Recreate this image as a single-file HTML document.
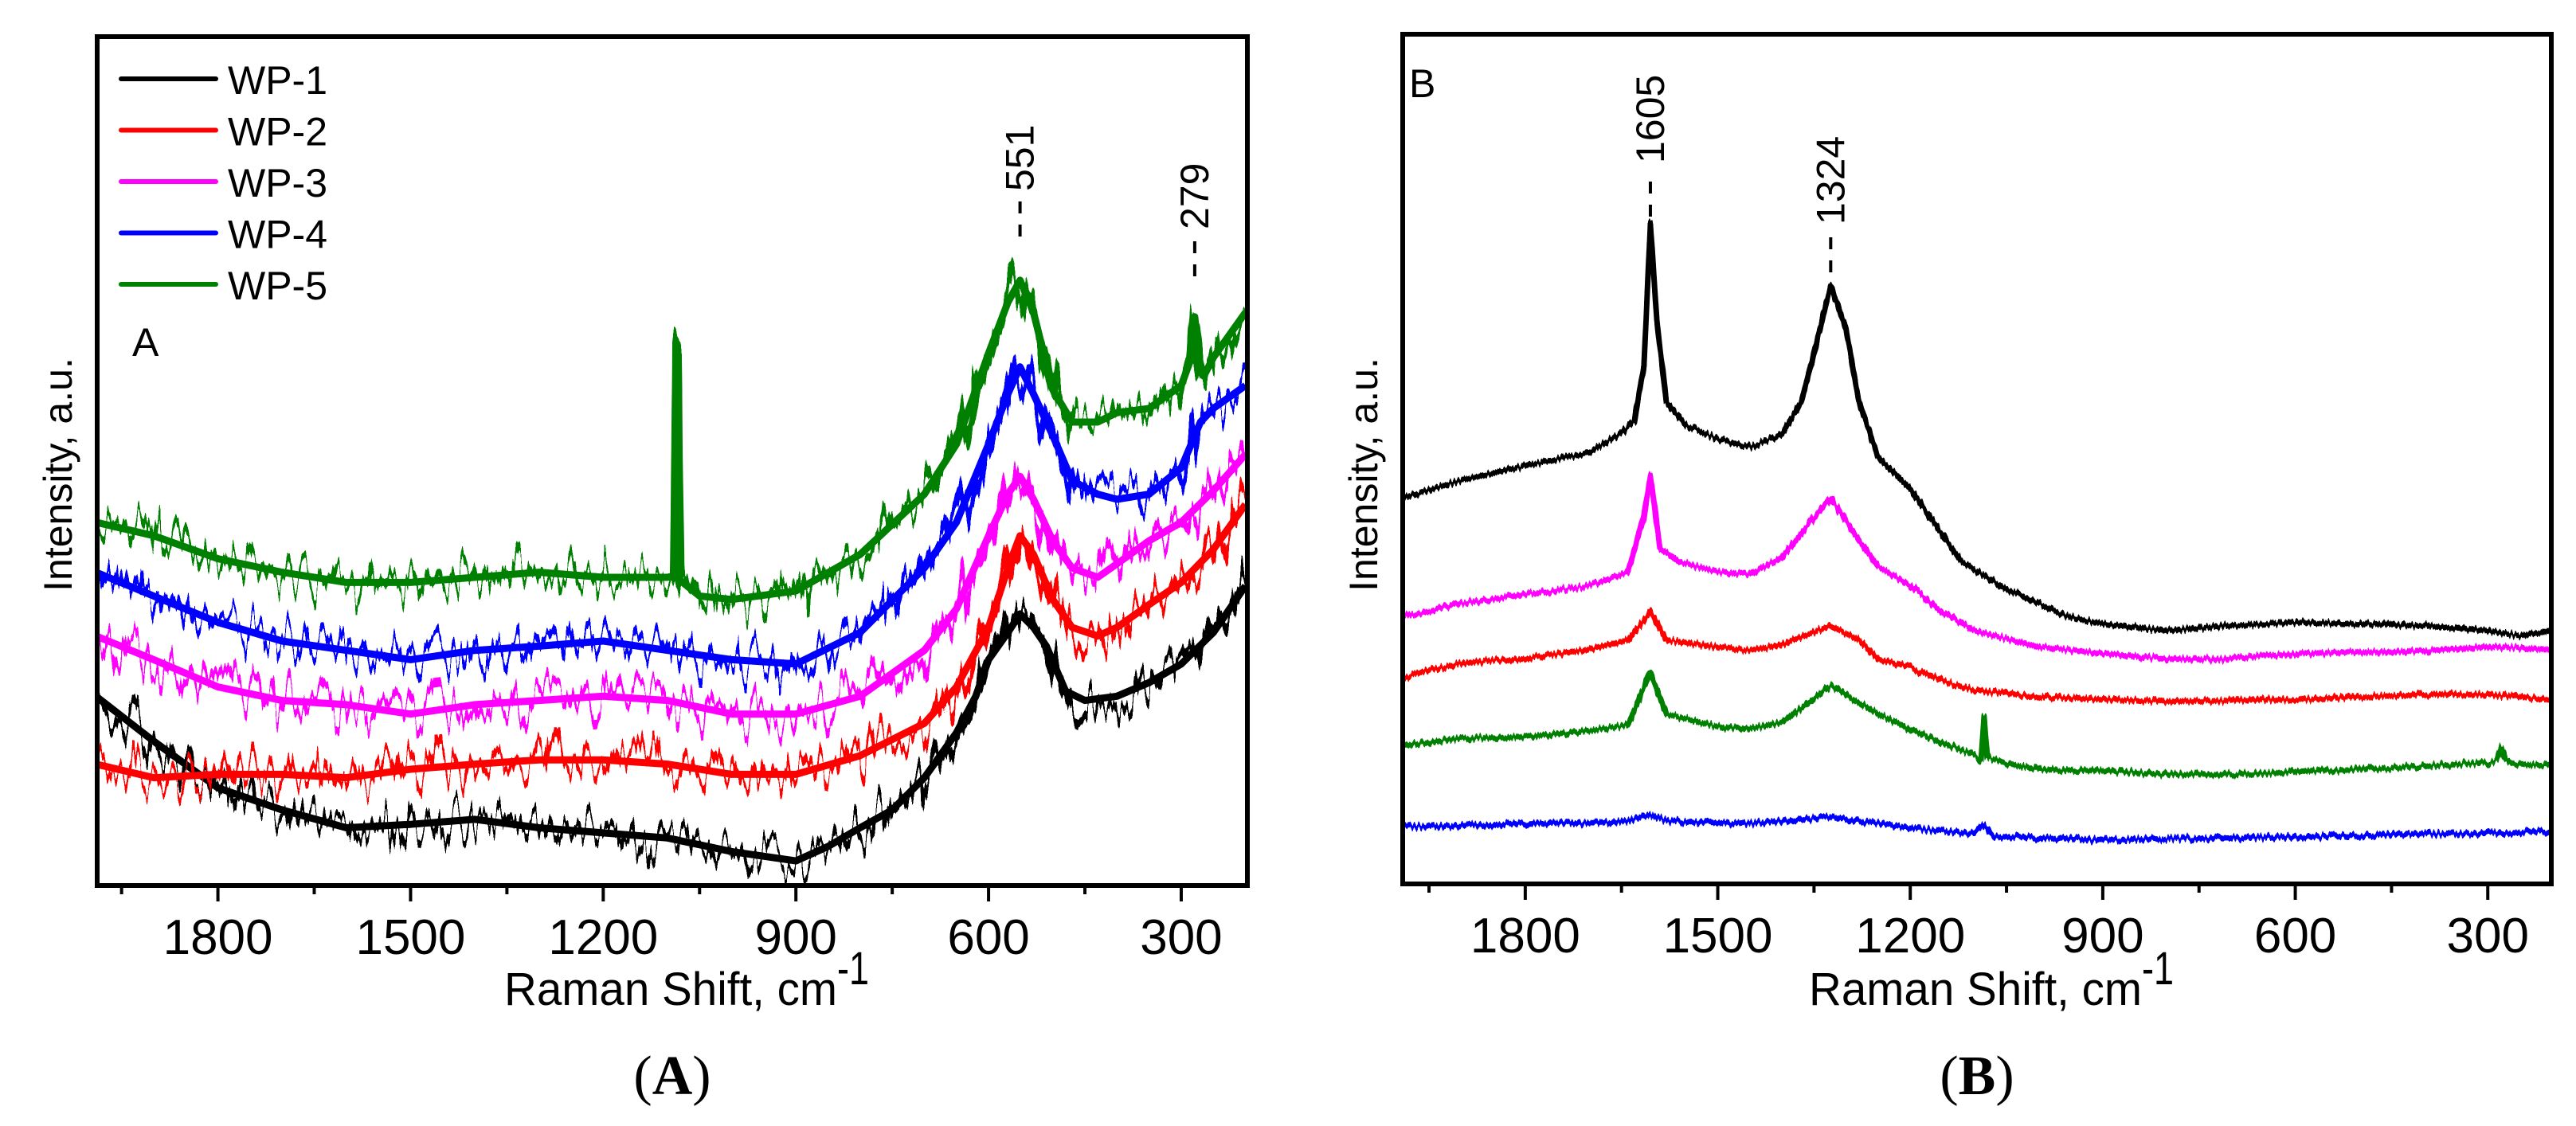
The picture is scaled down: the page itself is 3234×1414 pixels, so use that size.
<!DOCTYPE html>
<html><head><meta charset="utf-8"><style>
html,body{margin:0;padding:0;background:#fff;}
svg{display:block;font-family:"Liberation Sans",Arial,sans-serif;}
</style></head><body>
<svg id="fig" width="3234" height="1414" viewBox="0 0 3234 1414" xmlns="http://www.w3.org/2000/svg">
<defs>
<filter id="noise" filterUnits="userSpaceOnUse" x="0" y="0" width="1700" height="1200">
<feTurbulence type="fractalNoise" baseFrequency="0.09 0.004" numOctaves="3" seed="3" result="t"/>
<feColorMatrix in="t" type="matrix" values="1.8 0 0 0 -0.4  0 1 0 0 0  0 0 0 0 0.5  0 0 0 0 1" result="t2"/>
<feDisplacementMap in="SourceGraphic" in2="t2" scale="70" xChannelSelector="B" yChannelSelector="R"/>
</filter>
<filter id="noiseB" filterUnits="userSpaceOnUse" x="1700" y="0" width="1534" height="1200">
<feTurbulence type="fractalNoise" baseFrequency="0.4 0.01" numOctaves="1" seed="5" result="t"/>
<feColorMatrix in="t" type="matrix" values="1 0 0 0 0  0 1 0 0 0  0 0 0 0 0.5  0 0 0 0 1" result="t2"/>
<feDisplacementMap in="SourceGraphic" in2="t2" scale="13" xChannelSelector="B" yChannelSelector="R"/>
</filter>
<clipPath id="clipA"><rect x="124" y="48" width="1440" height="1062"/></clipPath>
<clipPath id="clipB"><rect x="1763" y="45" width="1440" height="1063"/></clipPath>
</defs>
<g id="panelA"></g>
<g id="panelB"></g>
</svg>
<script>
// ---------- Panel A data ----------
const ticksX = [1800, 1500, 1200, 900, 600, 300];
const minorX = [1950, 1650, 1350, 1050, 750, 450];
const seriesNames = ["WP-1", "WP-2", "WP-3", "WP-4", "WP-5"];
const seriesColors = ["#000000", "#ff0000", "#ff00ff", "#0000ff", "#008000"];

const aWP1x = [1990,1900,1800,1700,1600,1500,1400,1300,1200,1100,1000,900,850,800,750,700,650,620,600,570,551,530,510,480,450,400,350,300,250,200];
const aWP1y = [22.3,17,11.5,8.9,6.8,7.2,7.8,6.8,6.2,5.6,4,2.9,4.6,6.8,8.9,12.7,18,22.3,26.6,29.8,32,30.4,28.2,22.9,21.8,22.3,23.9,26.1,29.8,35.3];
const aWP2x = [1990,1900,1800,1700,1600,1500,1400,1300,1200,1100,1000,900,800,700,650,600,570,551,530,500,470,430,400,350,300,250,200];
const aWP2y = [14.3,12.7,13.1,13.1,12.7,13.7,14.3,14.8,14.8,14.3,13.1,13.1,15.3,19.1,23.4,30.4,37.4,41.2,39,33.7,30.4,29.4,30.4,33.1,35.7,39.6,44.9];
const aWP3x = [1990,1900,1800,1700,1600,1500,1400,1300,1200,1100,1000,900,800,700,650,600,570,551,530,500,470,430,400,350,300,250,200];
const aWP3y = [29.4,26.6,23.4,21.8,21.3,20.2,21.3,21.8,22.3,21.8,20.2,20.2,22.3,27.7,32.6,41.2,46.1,48.2,45.5,40.6,37.4,36.3,37.9,40.6,42.8,46.5,50.8];
const aWP4x = [1990,1900,1800,1700,1600,1500,1400,1300,1200,1100,1000,900,800,700,650,600,570,551,530,500,470,430,400,350,300,270,250,200];
const aWP4y = [36.9,34.1,31,28.8,27.7,26.6,27.7,28.2,28.8,27.7,26.6,26.1,29.8,37.4,42.8,52,57.9,61.1,57.9,53,47.7,46.1,45.5,46.1,49.2,54.6,56.2,58.9];
const aWP5x = [1990,1900,1800,1700,1600,1500,1400,1300,1200,1100,1089,1085,1081,1050,1000,900,800,700,650,600,570,551,530,500,470,430,400,350,300,285,279,272,265,250,200];
const aWP5y = [42.8,41.2,38.5,36.9,35.7,35.7,36.3,36.9,36.3,36.3,36.5,62.7,36,34.1,33.7,34.7,39,46.1,52,62.7,68.7,71.3,67.5,58.4,54.6,54.6,55.7,56.2,58.9,62,67,62,60,62.2,67.5];

// ---------- Panel B data ----------
const bWP1x = [1990,1900,1800,1700,1650,1630,1615,1605,1595,1580,1550,1500,1450,1400,1370,1350,1324,1300,1280,1250,1200,1170,1120,1050,1000,950,900,800,700,600,500,400,300,250,200];
const bWP1y = [45.4,47.5,49.2,50.8,53,54.5,61,77.7,66.4,56.7,54,52.4,51.4,53,56.7,62.6,70.4,65.3,56.7,50.2,46.5,43.2,37.9,34.7,33,31.4,30.6,29.8,30.4,30.8,30.6,30.4,29.8,29.2,29.8];
const bWP3x = [1990,1900,1800,1700,1640,1615,1605,1590,1560,1500,1450,1400,1360,1324,1290,1250,1200,1150,1100,1000,900,800,700,600,400,300,200];
const bWP3y = [31.4,33,34.1,35.1,36.7,43.2,48.1,39.5,37.9,36.7,36.5,38.4,42.2,45.4,41.6,37.3,35.1,32,29.8,27.9,27.1,26.5,26.5,27.1,27.4,27.9,27.6];
const bWP2x = [1990,1900,1800,1700,1640,1605,1580,1500,1450,1400,1324,1280,1250,1200,1150,1100,1000,800,600,400,300,200];
const bWP2y = [24.4,26,26.5,27.6,28.7,32,28.7,27.9,27.4,28.2,30.4,28.7,26.5,25.5,23.9,22.8,22,21.5,21.7,22.3,22.3,21.7];
const bWP5x = [1990,1900,1800,1700,1640,1605,1580,1500,1450,1400,1324,1250,1200,1150,1100,1090,1085,1080,1050,1000,900,800,700,600,500,400,300,285,279,272,265,200];
const bWP5y = [16.3,17.1,17.3,18,18.7,24.9,20,18.5,18.3,19,23.3,20,18.2,16.6,15.1,14.6,19.7,14.8,14.2,13.5,13.3,12.9,12.9,13.2,13.5,13.9,14.2,14.6,16,14.6,14.2,13.9];
const bWP4x = [1990,1900,1800,1700,1640,1605,1580,1500,1450,1324,1250,1200,1100,1085,1070,1000,900,700,500,300,200];
const bWP4y = [6.7,6.9,7.1,7.2,7.4,8.2,7.4,7.2,7.1,7.9,7.1,6.5,6,6.9,5.7,5.4,5.2,5.4,5.7,6,6.2];

const NS = "http://www.w3.org/2000/svg";
function mk(tag, attrs, parent, text){
  const e = document.createElementNS(NS, tag);
  for (const k in attrs) e.setAttribute(k, attrs[k]);
  if (text !== undefined) e.textContent = text;
  parent.appendChild(e);
  return e;
}

function buildPanel(g, P){
  const xS = v => P.x0 + (P.v0 - v) / (P.v0 - P.v1) * (P.x1 - P.x0);
  const yS = v => P.y1 - v / 100 * (P.y1 - P.y0);
  const sg = mk("g", {"clip-path": "url(#" + P.clip + ")"}, g);
  P.series.forEach((s, i) => {
    const d = s.x.map((v, j) => (j ? "L" : "M") + xS(v).toFixed(1) + " " + yS(s.y[j]).toFixed(1)).join(" ");
    const sgrp = mk("g", {}, sg);
    
    
    if (P.baseW) mk("path", {d: d, fill: "none", stroke: s.color, "stroke-width": P.baseW, "stroke-linejoin": "round"}, sgrp);
    mk("path", {d: d, fill: "none", stroke: s.color, "stroke-width": P.sw, "stroke-linejoin": "round", filter: "url(#" + P.filter + ")"}, sgrp);
  });
  const fr = mk("rect", {x: P.x0, y: P.y0, width: P.x1 - P.x0, height: P.y1 - P.y0, fill: "none", stroke: "#000", "stroke-width": 6}, g);
  
  
  ticksX.forEach(v => {
    const x = xS(v);
    const t = mk("line", {x1: x, x2: x, y1: P.y1, y2: P.y1 + 20, stroke: "#000", "stroke-width": 4}, g);
    
    
    const l = mk("text", {x: x, y: P.y1 + 86, "text-anchor": "middle", "font-size": 62}, g, String(v));
    
    
  });
  minorX.forEach(v => {
    const x = xS(v);
    const t = mk("line", {x1: x, x2: x, y1: P.y1, y2: P.y1 + 11, stroke: "#000", "stroke-width": 4}, g);
    
    
  });
  const cx = (P.x0 + P.x1) / 2;
  const xt = mk("text", {x: cx - 211, y: 1262, "font-size": 58, textLength: 418, lengthAdjust: "spacingAndGlyphs"}, g, "Raman Shift, cm");
  
  
  const sup = mk("text", {x: cx + 207, y: 1236, "font-size": 58, textLength: 40, lengthAdjust: "spacingAndGlyphs"}, g, "-1");
  
  
  const yt = mk("text", {x: 0, y: 0, "text-anchor": "middle", "font-size": 50, transform: "translate(" + (P.x0 - 32) + ",596) rotate(-90)"}, g, "Intensity, a.u.");
  
  
  const cap = mk("text", {x: cx, y: 1374, "text-anchor": "middle", "font-size": 70, "font-family": "Liberation Serif, serif"}, g);
  
  
  mk("tspan", {}, cap, "(");
  mk("tspan", {"font-weight": "bold"}, cap, P.letter);
  mk("tspan", {}, cap, ")");
  const pl = mk("text", {x: P.letterX, y: P.letterY, "font-size": 50}, g, P.letter);
  
  
  P.peaks.forEach(pk => {
    const x = xS(pk.v);
    const dl = mk("line", {x1: x, x2: x, y1: pk.dy0, y2: pk.dy1, stroke: "#000", "stroke-width": 4, "stroke-dasharray": "15 14"}, g);
    
    
    const tl = mk("text", {x: 0, y: 0, "font-size": 50, transform: "translate(" + (x + 17) + "," + pk.ty + ") rotate(-90)"}, g, String(pk.v));
    
    
  });
  return {xS, yS};
}

const gA = document.getElementById("panelA");
buildPanel(gA, {
  x0: 122, x1: 1566, y0: 46, y1: 1112, v0: 1988, v1: 197, clip: "clipA", filter: "noise", sw: 12, baseW: 9,
  letter: "A", letterX: 166, letterY: 447,
  series: [
    {name: "WP-1", color: seriesColors[0], x: aWP1x, y: aWP1y},
    {name: "WP-2", color: seriesColors[1], x: aWP2x, y: aWP2y},
    {name: "WP-3", color: seriesColors[2], x: aWP3x, y: aWP3y},
    {name: "WP-4", color: seriesColors[3], x: aWP4x, y: aWP4y},
    {name: "WP-5", color: seriesColors[4], x: aWP5x, y: aWP5y}
  ],
  peaks: [{v: 551, dy0: 253, dy1: 305, ty: 240}, {v: 279, dy0: 303, dy1: 352, ty: 288}]
});
const lg = mk("g", {}, gA);


seriesNames.forEach((n, i) => {
  const y = 99 + i * 64.5;
  const e = mk("g", {}, lg);
  
  
  mk("line", {x1: 152, x2: 271, y1: y, y2: y, stroke: seriesColors[i], "stroke-width": 6, "stroke-linecap": "round"}, e);
  mk("text", {x: 286, y: y + 19, "font-size": 50}, e, n);
});

const gB = document.getElementById("panelB");
buildPanel(gB, {
  x0: 1761, x1: 3203, y0: 43, y1: 1110, v0: 1991, v1: 201, clip: "clipB", filter: "noiseB", sw: 7, baseW: 0,
  letter: "B", letterX: 1769, letterY: 122,
  series: [
    {name: "WP-1", color: seriesColors[0], x: bWP1x, y: bWP1y},
    {name: "WP-3", color: seriesColors[2], x: bWP3x, y: bWP3y},
    {name: "WP-2", color: seriesColors[1], x: bWP2x, y: bWP2y},
    {name: "WP-5", color: seriesColors[4], x: bWP5x, y: bWP5y},
    {name: "WP-4", color: seriesColors[3], x: bWP4x, y: bWP4y}
  ],
  peaks: [{v: 1605, dy0: 228, dy1: 283, ty: 205}, {v: 1324, dy0: 298, dy1: 352, ty: 282}]
});
</script>
</body></html>
